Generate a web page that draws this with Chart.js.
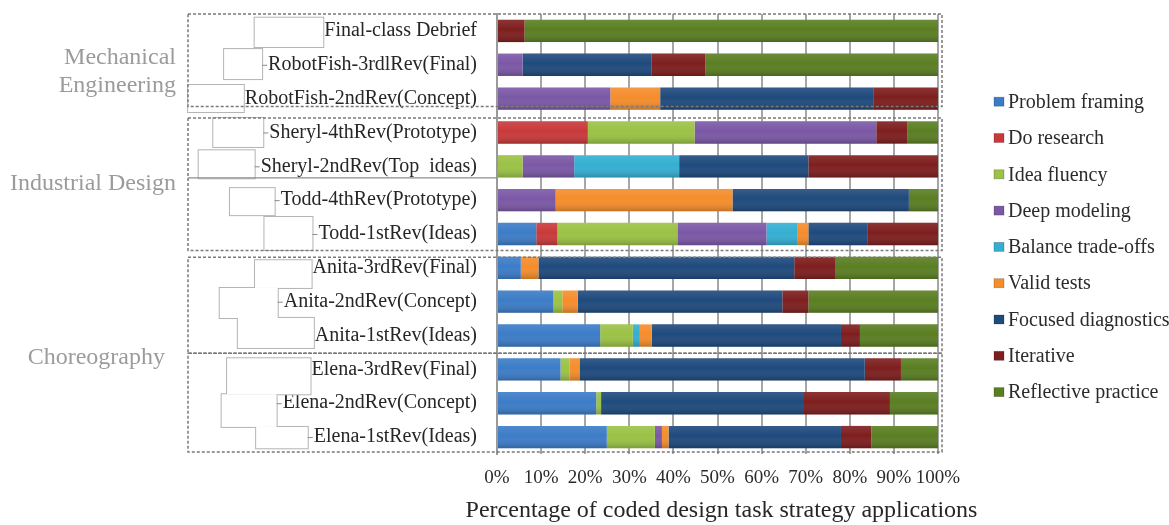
<!DOCTYPE html>
<html>
<head>
<meta charset="utf-8">
<script src="https://cdn.jsdelivr.net/npm/chart.js@4/dist/chart.umd.min.js"></script>
<style>
  html, body { margin: 0; padding: 0; background: #ffffff; }
  #wrap { width: 1169px; height: 525px; position: relative; }
</style>
</head>
<body>
<div id="wrap"><canvas id="chart" width="1169" height="525"></canvas></div>
<script>
// Design review sessions (one bar each), top to bottom
const categories = [
  'Final-class Debrief',
  'RobotFish-3rdlRev(Final)',
  'RobotFish-2ndRev(Concept)',
  'Sheryl-4thRev(Prototype)',
  'Sheryl-2ndRev(Top  ideas)',
  'Todd-4thRev(Prototype)',
  'Todd-1stRev(Ideas)',
  'Anita-3rdRev(Final)',
  'Anita-2ndRev(Concept)',
  'Anita-1stRev(Ideas)',
  'Elena-3rdRev(Final)',
  'Elena-2ndRev(Concept)',
  'Elena-1stRev(Ideas)'
];

// Share (%) of coded design task strategy applications per session
const problemFraming      = [0, 0, 0, 0, 0, 0, 8.9, 5.4, 12.8, 23.4, 14.4, 22.5, 24.9];
const doResearch          = [0, 0, 0, 20.6, 0, 0, 4.8, 0, 0, 0, 0, 0, 0];
const ideaFluency         = [0, 0, 0, 24.2, 5.8, 0, 27.2, 0, 2.0, 7.4, 2.0, 1.1, 10.9];
const deepModeling        = [0, 5.8, 25.7, 41.2, 11.7, 13.3, 20.2, 0, 0, 0, 0, 0, 1.6];
const balanceTradeOffs    = [0, 0, 0, 0, 23.8, 0, 7.1, 0, 0, 1.6, 0, 0, 0];
const validTests          = [0, 0, 11.3, 0, 0, 40.1, 2.4, 4.0, 3.5, 2.7, 2.3, 0, 1.5];
const focusedDiagnostics  = [0, 29.3, 48.3, 0, 29.3, 40.0, 13.5, 58.0, 46.4, 42.9, 64.7, 45.8, 39.1];
const iterative           = [6.25, 12.1, 14.7, 7.1, 29.4, 0, 15.9, 9.4, 5.9, 4.3, 8.2, 19.7, 6.9];
const reflectivePractice  = [93.75, 52.8, 0, 6.9, 0, 6.6, 0, 23.2, 29.4, 17.7, 8.4, 10.9, 15.1];

const seriesNames = [
  'Problem framing', 'Do research', 'Idea fluency', 'Deep modeling',
  'Balance trade-offs', 'Valid tests', 'Focused diagnostics', 'Iterative', 'Reflective practice'
];
const seriesValues = [
  problemFraming, doResearch, ideaFluency, deepModeling,
  balanceTradeOffs, validTests, focusedDiagnostics, iterative, reflectivePractice
];
const seriesColors = [
  '#3c7cc7', '#c9393b', '#9bc245', '#7b58a6',
  '#34afd2', '#f58d2c', '#1f4a7d', '#7e1e1e', '#5a7e22'
];

// Axis ticks
const xTickStep = 10;
const xTickSuffix = '%';
const xTitle = 'Percentage of coded design task strategy applications';

// Discipline groups: rows covered and label lines
const groupLabels = [
  ['Mechanical', 'Engineering'],
  ['Industrial Design'],
  ['Choreography']
];
const groupFirstRow = [0, 3, 7];
const groupLastRow  = [2, 6, 12];

// ---- layout / styling of the decorations ----
const SERIF = "'Liberation Serif', 'Times New Roman', serif";
const groupLabelLayout = [ // right edge x, vertical shift from the group's middle
  { right: 176, dy: 7 }, { right: 176, dy: 0 }, { right: 165, dy: 5 }
];
// dashed frames: [first row, last row, top offset, bottom offset]
const frameLayout = [
  [0, 2, -17, 8],
  [3, 6, -14.5, 16.5],
  [7, 9, -10.5, 17.8],
  [10, 12, -16.1, 15]
];
const frameLeft = 188;
// little white text boxes left of each row label: [width, top, bottom, connector]
const labelBoxLayout = [
  [68.6, -13.2, 16.1, false],
  [38, -15.7, 14.3, true],
  [55.7, -13.6, 13.4, false],
  [50, -14.5, 14.5, true],
  [56, -16, 12, true],
  [44.7, -12, 15, true],
  [48, -17, 16, true],
  [56.6, -7.6, 20.1, false],
  [58, -13.7, 16.3, true],
  [76, -17.6, 12.4, false],
  [83.4, -11.1, 24.9, false],
  [55, -9, 23.7, true],
  [51.6, -10.1, 11.2, true]
];
const yLabelPadding = 20;
const yLabelFont = 20;

const decorations = {
  id: 'decorations',
  afterDatasetsDraw(chart) {
    // soft top-to-bottom shading on every bar segment
    const ctx = chart.ctx;
    ctx.save();
    chart.getSortedVisibleDatasetMetas().forEach(meta => {
      meta.data.forEach(bar => {
        const p = bar.getProps(['x', 'y', 'base', 'height'], true);
        const left = Math.min(p.x, p.base), w = Math.abs(p.x - p.base);
        if (w < 0.5) return;
        const top = p.y - p.height / 2;
        const g = ctx.createLinearGradient(0, top, 0, top + p.height);
        g.addColorStop(0, 'rgba(255,255,255,0.10)');
        g.addColorStop(0.45, 'rgba(255,255,255,0)');
        g.addColorStop(1, 'rgba(0,0,0,0.20)');
        ctx.fillStyle = g;
        ctx.fillRect(left, top, w, p.height);
      });
    });
    ctx.restore();
  },
  afterDraw(chart) {
    const ctx = chart.ctx;
    const yScale = chart.scales.y;
    const xScale = chart.scales.x;
    const area = chart.chartArea;
    const cy = i => yScale.getPixelForValue(i);
    ctx.save();

    // white text boxes beside the row labels (union outlines)
    ctx.font = yLabelFont + 'px ' + SERIF;
    const boxes = categories.map((name, i) => {
      const [w, t, b, conn] = labelBoxLayout[i];
      const labelLeft = area.left - yLabelPadding - ctx.measureText(name).width;
      const right = conn ? labelLeft - 6 : labelLeft - 1;
      return { x: right - w, y: cy(i) + t, w, h: b - t, conn, labelLeft, c: cy(i) };
    });
    ctx.strokeStyle = '#b4b4b4';
    ctx.lineWidth = 2;
    boxes.forEach(r => ctx.strokeRect(r.x, r.y, r.w, r.h));
    ctx.fillStyle = '#ffffff';
    boxes.forEach(r => ctx.fillRect(r.x, r.y, r.w, r.h));
    ctx.strokeStyle = '#8a8a8a';
    ctx.lineWidth = 1;
    boxes.forEach(r => {
      if (!r.conn) return;
      ctx.beginPath();
      ctx.moveTo(r.x + r.w, r.c + 0.5);
      ctx.lineTo(r.labelLeft - 1, r.c + 0.5);
      ctx.stroke();
    });

    // dashed discipline frames
    ctx.strokeStyle = '#7a7a7a';
    ctx.lineWidth = 1.5;
    ctx.setLineDash([3, 2]);
    const frameRight = area.right + 4;
    frameLayout.forEach(([f, l, t, b]) => {
      const top = cy(f) + t, bottom = cy(l) + b;
      ctx.strokeRect(frameLeft, top, frameRight - frameLeft, bottom - top);
    });
    ctx.setLineDash([]);
    // divider between the two industrial design students
    ctx.strokeStyle = '#8c8c8c';
    ctx.lineWidth = 1.2;
    ctx.beginPath();
    ctx.moveTo(frameLeft, cy(4) + 11.5);
    ctx.lineTo(area.left, cy(4) + 11.5);
    ctx.stroke();

    // discipline names
    ctx.fillStyle = '#9b9b9b';
    ctx.font = '24px ' + SERIF;
    ctx.textAlign = 'right';
    ctx.textBaseline = 'middle';
    groupLabels.forEach((lines, g) => {
      const mid = (cy(groupFirstRow[g]) + cy(groupLastRow[g])) / 2 + groupLabelLayout[g].dy;
      lines.forEach((txt, k) => {
        const y = mid + (k - (lines.length - 1) / 2) * 28;
        ctx.fillText(txt, groupLabelLayout[g].right, y);
      });
    });

    // x-axis title, allowed to run wider than the plot area
    ctx.fillStyle = '#262626';
    ctx.font = '24px ' + SERIF;
    ctx.textAlign = 'center';
    ctx.fillText(xTitle, (xScale.left + xScale.right) / 2 + 4, xScale.bottom - 14);

    // legend
    ctx.font = '20px ' + SERIF;
    ctx.textAlign = 'left';
    chart.data.datasets.forEach((ds, i) => {
      const y = 101.7 + i * 36.3;
      ctx.fillStyle = ds.backgroundColor;
      ctx.fillRect(994, y - 4.5, 10, 9);
      ctx.strokeStyle = 'rgba(0,0,0,0.25)';
      ctx.lineWidth = 0.8;
      ctx.strokeRect(994, y - 4.5, 10, 9);
      ctx.fillStyle = '#2b2b2b';
      ctx.fillText(ds.label, 1008, y + 1);
    });
    ctx.restore();
  }
};

new Chart(document.getElementById('chart'), {
  type: 'bar',
  data: {
    labels: categories,
    datasets: seriesNames.map((name, i) => ({
      label: name,
      data: seriesValues[i],
      backgroundColor: seriesColors[i],
      borderWidth: 0,
      barPercentage: 0.66,
      categoryPercentage: 1.0
    }))
  },
  options: {
    indexAxis: 'y',
    responsive: false,
    animation: false,
    devicePixelRatio: 1,
    layout: { padding: { top: 14, right: 231, bottom: 0, left: 0 } },
    plugins: { legend: { display: false }, tooltip: { enabled: false } },
    scales: {
      y: {
        stacked: true,
        grid: { display: false, drawTicks: false },
        border: { display: true, color: '#9a9a9a', width: 2 },
        ticks: {
          autoSkip: false,
          padding: yLabelPadding,
          color: '#262626',
          font: { family: SERIF, size: yLabelFont }
        },
        afterFit(scale) {
          scale.width = 497;
          scale.paddingTop = 0;
          scale.paddingBottom = 0;
        }
      },
      x: {
        stacked: true,
        min: 0,
        max: 100,
        grid: { color: '#a6a6a6', lineWidth: 2, drawTicks: false },
        border: { display: false },
        ticks: {
          stepSize: xTickStep,
          padding: 13,
          autoSkip: false,
          maxRotation: 0,
          minRotation: 0,
          color: '#2b2b2b',
          font: { family: SERIF, size: 19 },
          callback: v => v + xTickSuffix
        },
        title: { display: false },
        afterFit(scale) {
          scale.height = 71;
          scale.paddingLeft = 0;
          scale.paddingRight = 0;
        }
      }
    }
  },
  plugins: [decorations]
});
</script>
</body>
</html>
